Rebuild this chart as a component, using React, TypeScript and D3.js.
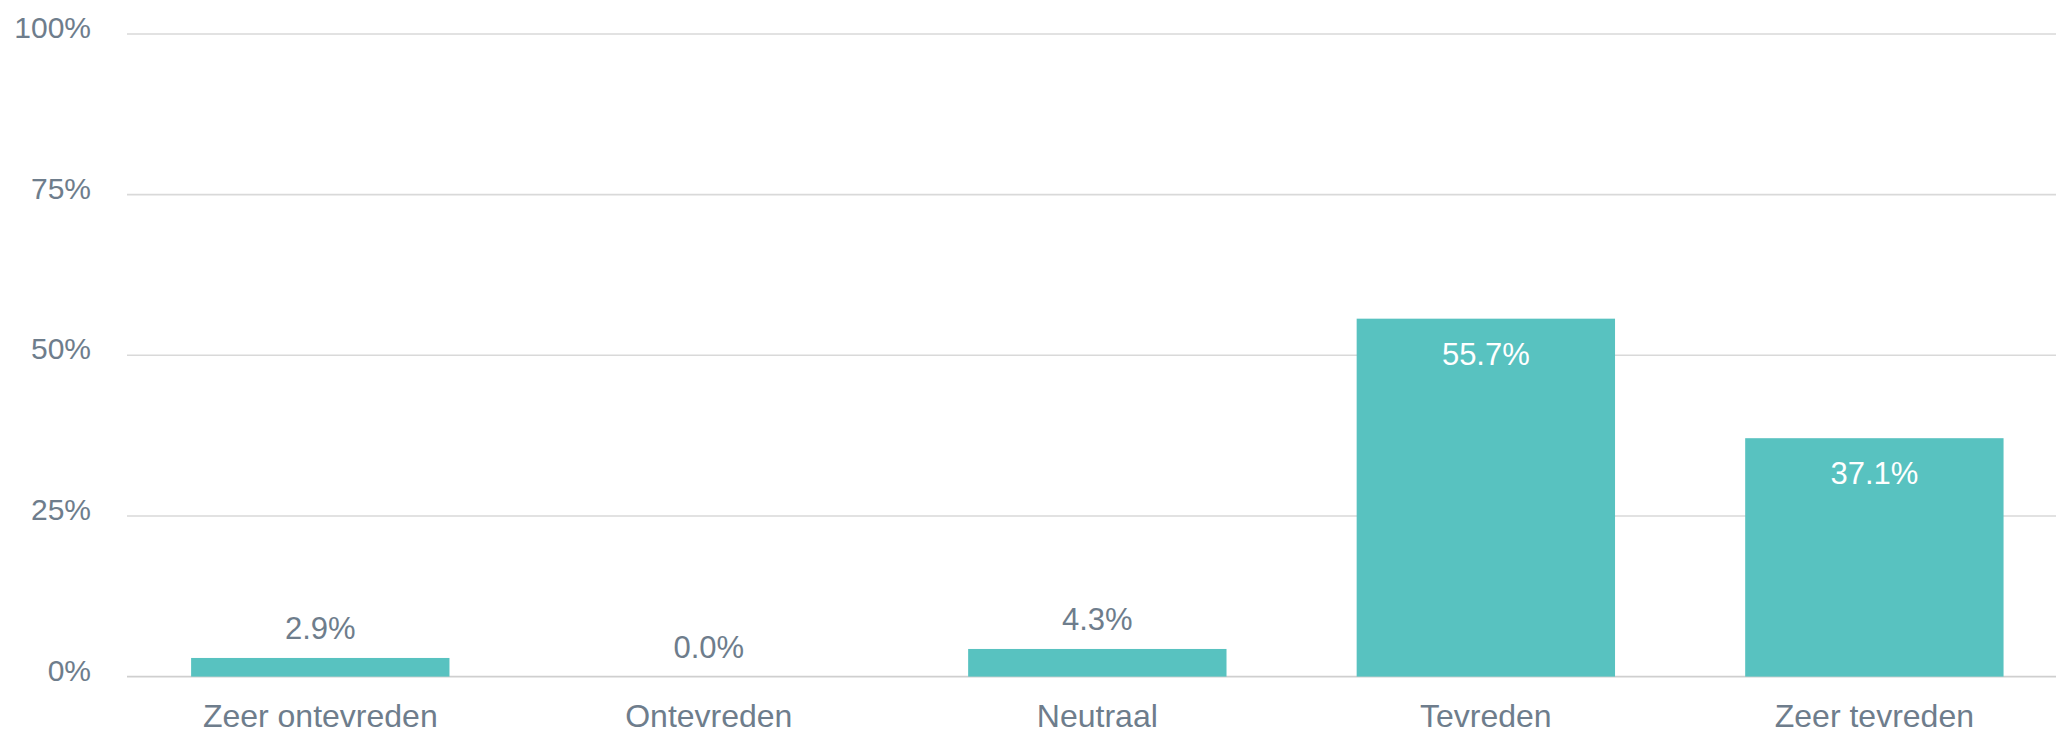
import React, { useEffect, useRef } from 'react'
import * as d3 from 'd3'

const categories = ['Zeer ontevreden', 'Ontevreden', 'Neutraal', 'Tevreden', 'Zeer tevreden']
const values = [2.9, 0.0, 4.3, 55.7, 37.1]
const yTicks = [0, 25, 50, 75, 100]

const App = () => {
  const chartRef = useRef<SVGSVGElement | null>(null)
  const width = 2056
  const height = 734

  useEffect(() => {
    const svg = d3.select(chartRef.current)
    svg.selectAll('*').remove()

    const textColor = '#6e7d8c'
    const barColor = '#58c2c0'

    // scales
    const x = d3
      .scaleBand<string>()
      .domain(categories)
      .range([127, width])
      .paddingInner(0.335)
      .paddingOuter(0.15)
      .align(0.55)

    const y = d3.scaleLinear().domain([0, 100]).range([676.6, 34])

    // grid lines
    svg
      .selectAll('line.grid')
      .data(yTicks)
      .enter()
      .append('line')
      .attr('class', 'grid')
      .attr('x1', 127)
      .attr('x2', width)
      .attr('y1', (d) => y(d))
      .attr('y2', (d) => y(d))
      .attr('stroke', (d) => (d === 0 ? '#cfcfcf' : '#d9d9d9'))
      .attr('stroke-width', 1.6)

    // y tick labels
    svg
      .selectAll('text.ytick')
      .data(yTicks)
      .enter()
      .append('text')
      .attr('class', 'ytick')
      .attr('x', 91)
      .attr('y', (d) => y(d) + 4)
      .attr('text-anchor', 'end')
      .attr('font-family', 'Liberation Sans, Arial, sans-serif')
      .attr('font-size', 30)
      .attr('fill', textColor)
      .text((d) => `${d}%`)

    // bars
    svg
      .selectAll('rect.bar')
      .data(values)
      .enter()
      .append('rect')
      .attr('class', 'bar')
      .attr('x', (d, i) => x(categories[i]) as number)
      .attr('width', x.bandwidth())
      .attr('y', (d) => y(d))
      .attr('height', (d) => y(0) - y(d))
      .attr('fill', barColor)

    // value labels: inside for big bars, above for small ones
    svg
      .selectAll('text.val')
      .data(values)
      .enter()
      .append('text')
      .attr('class', 'val')
      .attr('x', (d, i) => (x(categories[i]) as number) + x.bandwidth() / 2)
      .attr('y', (d) => (d > 10 ? y(d) + 46 : y(d) - 19))
      .attr('text-anchor', 'middle')
      .attr('font-family', 'Liberation Sans, Arial, sans-serif')
      .attr('font-size', 31)
      .attr('fill', (d) => (d > 10 ? '#ffffff' : textColor))
      .text((d) => `${d.toFixed(1)}%`)

    // category labels
    svg
      .selectAll('text.cat')
      .data(categories)
      .enter()
      .append('text')
      .attr('class', 'cat')
      .attr('x', (d) => (x(d) as number) + x.bandwidth() / 2)
      .attr('y', 727)
      .attr('text-anchor', 'middle')
      .attr('font-family', 'Liberation Sans, Arial, sans-serif')
      .attr('font-size', 32)
      .attr('fill', textColor)
      .text((d) => d)
  }, [])

  return (
    <svg
      ref={chartRef}
      width={width}
      height={height}
      style={{ position: 'absolute', left: 0, top: 0, background: '#fff' }}
    />
  )
}

export default App
